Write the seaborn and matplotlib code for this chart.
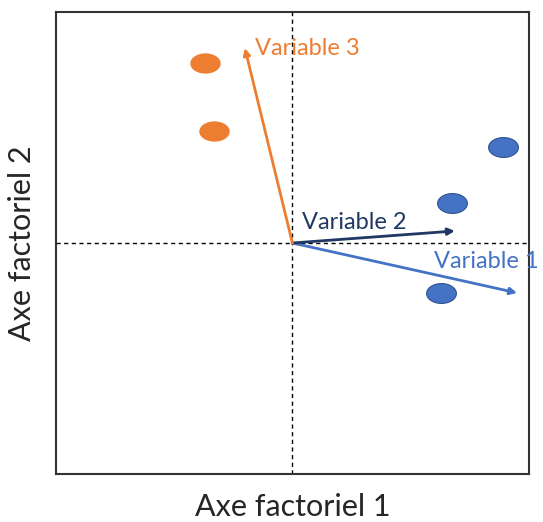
import numpy as np
import matplotlib
matplotlib.use("Agg")
import matplotlib.pyplot as plt
from matplotlib.path import Path
import seaborn as sns
import pandas as pd

# individuals on the factorial plane
ind_x = [-0.37, -0.332, 0.89, 0.674, 0.628]
ind_y = [0.78, 0.485, 0.416, 0.173, -0.216]
ind_group = ["a", "a", "b", "b", "b"]

# variable arrows
var_names = ["Variable 1", "Variable 2", "Variable 3"]
var_x = [0.95, 0.687, -0.201]
var_y = [-0.216, 0.052, 0.844]
var_colors = ["#4472C4", "#203864", "#ED7D31"]

sns.set_style("white")
plt.rcParams["font.family"] = ["Lato", "DejaVu Sans"]

fig = plt.figure(figsize=(5.43, 5.22), dpi=100)
ax = fig.add_axes([0.103, 0.092, 0.871, 0.885])

# ellipse marker
t = np.linspace(0, 2 * np.pi, 60)
ell = Path(np.column_stack([1.5 * np.cos(t), np.sin(t)]), closed=True)

df = pd.DataFrame({"x": ind_x, "y": ind_y, "g": ind_group})
sns.scatterplot(data=df[df.g == "a"], x="x", y="y", color="#ED7D31",
                marker=ell, s=480, linewidth=0, legend=False, ax=ax)
sns.scatterplot(data=df[df.g == "b"], x="x", y="y", color="#4472C4",
                marker=ell, s=460, linewidth=0.8, edgecolor="#2F528F",
                legend=False, ax=ax)

ax.axhline(0, color="black", lw=1, ls=(0, (3, 2.5)))
ax.axvline(0, color="black", lw=1, ls=(0, (3, 2.5)))

for name, vx, vy, c in zip(var_names, var_x, var_y, var_colors):
    ax.annotate("", xy=(vx, vy), xytext=(0, 0),
                arrowprops=dict(arrowstyle="-|>", color=c, lw=2,
                                mutation_scale=10, shrinkA=0, shrinkB=0))

ax.text(-0.158, 0.842, "Variable 3", color=var_colors[2], fontsize=17, va="center")
ax.text(0.04, 0.09, "Variable 2", color=var_colors[1], fontsize=17, va="center")
ax.text(0.6, -0.08, "Variable 1", color=var_colors[0], fontsize=17, va="center")

ax.set_xlim(-1, 1)
ax.set_ylim(-1, 1)
ax.set_xticks([])
ax.set_yticks([])
ax.set_xlabel("Axe factoriel 1", fontsize=22, labelpad=14)
ax.set_ylabel("Axe factoriel 2", fontsize=22, labelpad=14)
for sp in ax.spines.values():
    sp.set_color("#333333")
    sp.set_linewidth(1.5)

fig.savefig("out.png", dpi=100)
